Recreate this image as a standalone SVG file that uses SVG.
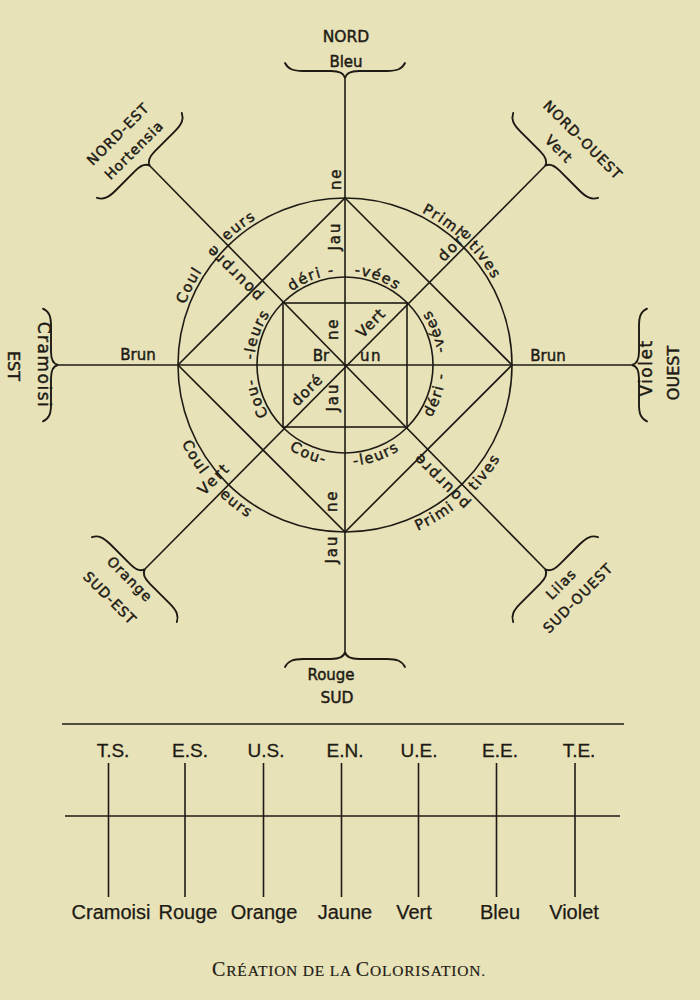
<svg xmlns="http://www.w3.org/2000/svg" width="700" height="1000" viewBox="0 0 700 1000">
<style>
svg{font-size:15px}
.ln{fill:none;stroke:#1d1b14;stroke-width:1.6}
.br{fill:none;stroke:#1d1b14;stroke-width:1.9;stroke-linecap:round}
text{fill:#1d1b14;stroke:#1d1b14;stroke-width:0.45px;font-family:"DejaVu Sans","Liberation Sans",sans-serif}
.r text{font-size:14.5px;letter-spacing:1.5px}
.lb{font-size:14px;letter-spacing:1px}
.tb text{font-family:"Liberation Sans",Arial,sans-serif;font-size:20px;stroke-width:0.25px}
.th text{font-family:"Liberation Sans",Arial,sans-serif;font-size:19px;stroke-width:0.3px}
text.cap{font-family:"Liberation Serif","Times New Roman",serif;letter-spacing:0.8px;stroke-width:0.2px}
</style>
<defs>
<path id="brace" d="M-60,-15 C-57,-9 -52,-7 -42,-7 L-14,-7 C-5,-7 -1,-5 0,0 C1,-5 5,-7 14,-7 L42,-7 C52,-7 57,-9 60,-15"/>
<path id="oCW" d="M174,365 A171,171 0 0 1 516,365"/>
<path id="oCCW" d="M164,365 A181,181 0 0 0 526,365"/>
<path id="iCW" d="M345,456 A91,91 0 0 1 254,365 A91,91 0 0 1 436,365"/>
<path id="iCCW" d="M244,365 A101,101 0 0 0 345,466 A101,101 0 0 0 446,365 A101,101 0 0 0 345,264"/>
</defs>
<rect width="700" height="1000" fill="#e8e2b9"/>

<g id="connectors" class="ln">
<line x1="58" y1="365" x2="632" y2="365"/>
<line x1="345" y1="78" x2="345" y2="652"/>
<line x1="150" y1="166" x2="545" y2="569"/>
<line x1="545" y1="166" x2="145" y2="569"/>
<circle cx="345" cy="365" r="167"/>
<circle cx="345" cy="365" r="88"/>
<rect x="283" y="303" width="124" height="124"/>
<polygon points="345,198 512,365 345,532 178,365"/>
</g>

<g id="braces" class="br">
<use href="#brace" transform="translate(345,78)"/>
<use href="#brace" transform="translate(345,652) rotate(180)"/>
<use href="#brace" transform="translate(58,365) rotate(-90) scale(0.94,1)"/>
<use href="#brace" transform="translate(632,365) rotate(90) scale(0.94,1)"/>
<use href="#brace" transform="translate(150,166) rotate(-45)"/>
<use href="#brace" transform="translate(545,166) rotate(45)"/>
<use href="#brace" transform="translate(145,569) rotate(-135)"/>
<use href="#brace" transform="translate(545,569) rotate(135)"/>
</g>

<g id="nord"><text x="346" y="42" text-anchor="middle" font-size="15.5">NORD</text><text x="346" y="67" text-anchor="middle">Bleu</text></g>
<g id="sud"><text x="331" y="680" text-anchor="middle">Rouge</text><text x="337" y="703" text-anchor="middle" font-size="15.5">SUD</text></g>
<g id="est"><text transform="translate(44,365) rotate(90)" y="6" text-anchor="middle" font-size="17" letter-spacing="1.5">Cramoisi</text><text transform="translate(14,366) rotate(90)" y="6" text-anchor="middle" font-size="16">EST</text></g>
<g id="ouest"><text transform="translate(646,368) rotate(-90)" y="6" text-anchor="middle" font-size="17" letter-spacing="1.5">Violet</text><text transform="translate(673,373) rotate(-90)" y="6" text-anchor="middle" font-size="16">OUEST</text></g>
<g id="nord-est" class="lb"><text transform="translate(134,150) rotate(-45)" y="5" text-anchor="middle">Hortensia</text><text transform="translate(118,134) rotate(-45)" y="5" text-anchor="middle">NORD-EST</text></g>
<g id="nord-ouest" class="lb"><text transform="translate(559,149) rotate(45)" y="5" text-anchor="middle">Vert</text><text transform="translate(583,140) rotate(45)" y="5" text-anchor="middle">NORD-OUEST</text></g>
<g id="sud-est" class="lb"><text transform="translate(130,579) rotate(45)" y="5" text-anchor="middle">Orange</text><text transform="translate(110,598) rotate(45)" y="5" text-anchor="middle">SUD-EST</text></g>
<g id="sud-ouest" class="lb"><text transform="translate(561,584) rotate(-45)" y="5" text-anchor="middle">Lilas</text><text transform="translate(578,598) rotate(-45)" y="5" text-anchor="middle">SUD-OUEST</text></g>

<g id="axis-labels">
<text x="138" y="360" text-anchor="middle">Brun</text>
<text x="548" y="361" text-anchor="middle">Brun</text>
<text x="321" y="361" text-anchor="middle">Br</text>
<text x="371" y="361" text-anchor="middle" letter-spacing="1.5">un</text>
<text transform="translate(336,179) rotate(-90)" y="5" text-anchor="middle" letter-spacing="1.5">ne</text>
<text transform="translate(335,236) rotate(-90)" y="5" text-anchor="middle" letter-spacing="2">Jau</text>
<text transform="translate(333,329) rotate(-90)" y="5" text-anchor="middle" letter-spacing="1.5">ne</text>
<text transform="translate(333,397) rotate(-90)" y="5" text-anchor="middle" letter-spacing="2">Jau</text>
<text transform="translate(332,501) rotate(-90)" y="5" text-anchor="middle" letter-spacing="1.5">ne</text>
<text transform="translate(332,549) rotate(-90)" y="5" text-anchor="middle" letter-spacing="2">Jau</text>
<text transform="translate(371,323) rotate(-45)" y="5" text-anchor="middle" letter-spacing="1">Vert</text>
<text transform="translate(307,390) rotate(-45)" y="5" text-anchor="middle" letter-spacing="1">doré</text>
<text transform="translate(455,244) rotate(-45)" y="5" text-anchor="middle" letter-spacing="2">doré</text>
<text transform="translate(214,479) rotate(-45)" y="5" text-anchor="middle" letter-spacing="2">Vert</text>
<text transform="translate(234,273) rotate(225)" y="5" text-anchor="middle" letter-spacing="2">pourpre</text>
<text transform="translate(441,481) rotate(225)" y="5" text-anchor="middle" letter-spacing="2">pourpre</text>
</g>

<g id="outer-ring" class="r">
<text><textPath href="#oCW" startOffset="81" text-anchor="middle">Coul</textPath></text>
<text><textPath href="#oCW" startOffset="157" text-anchor="middle">eurs</textPath></text>
<text><textPath href="#oCW" startOffset="370" text-anchor="middle">Primi</textPath></text>
<text><textPath href="#oCW" startOffset="427" text-anchor="middle">tives</textPath></text>
<text><textPath href="#oCCW" startOffset="100" text-anchor="middle">Coul</textPath></text>
<text><textPath href="#oCCW" startOffset="164" text-anchor="middle">eurs</textPath></text>
<text><textPath href="#oCCW" startOffset="381" text-anchor="middle">Primi</textPath></text>
<text><textPath href="#oCCW" startOffset="450" text-anchor="middle">tives</textPath></text>
</g>

<g id="inner-ring" class="r">
<text><textPath href="#iCW" startOffset="110" text-anchor="middle">Cou-</textPath></text>
<text><textPath href="#iCW" startOffset="173" text-anchor="middle">-leurs</textPath></text>
<text><textPath href="#iCW" startOffset="252" text-anchor="middle">déri -</textPath></text>
<text><textPath href="#iCW" startOffset="318" text-anchor="middle">-vées</textPath></text>
<text><textPath href="#iCCW" startOffset="119" text-anchor="middle">Cou-</textPath></text>
<text><textPath href="#iCCW" startOffset="192" text-anchor="middle">-leurs</textPath></text>
<text><textPath href="#iCCW" startOffset="285" text-anchor="middle">déri -</textPath></text>
<text><textPath href="#iCCW" startOffset="353" text-anchor="middle">-vées</textPath></text>
</g>

<g id="table">
<g class="ln">
<line x1="62" y1="724" x2="624" y2="724"/>
<line x1="65" y1="816" x2="620" y2="816"/>
<line x1="108.5" y1="763" x2="108.5" y2="897"/>
<line x1="185" y1="763" x2="185" y2="897"/>
<line x1="263.5" y1="763" x2="263.5" y2="897"/>
<line x1="341.5" y1="763" x2="341.5" y2="897"/>
<line x1="418.5" y1="763" x2="418.5" y2="897"/>
<line x1="496.5" y1="763" x2="496.5" y2="897"/>
<line x1="575" y1="763" x2="575" y2="897"/>
</g>
<g id="table-head" class="th" text-anchor="middle">
<text x="113" y="757">T.S.</text>
<text x="190" y="757">E.S.</text>
<text x="266" y="757">U.S.</text>
<text x="345" y="757">E.N.</text>
<text x="419" y="757">U.E.</text>
<text x="500" y="757">E.E.</text>
<text x="579" y="757">T.E.</text>
</g>
<g id="table-foot" class="tb" text-anchor="middle">
<text x="111" y="919">Cramoisi</text>
<text x="188" y="919">Rouge</text>
<text x="264" y="919">Orange</text>
<text x="345" y="919">Jaune</text>
<text x="414" y="919">Vert</text>
<text x="500" y="919">Bleu</text>
<text x="574" y="919">Violet</text>
</g>
</g>

<g id="caption"><text x="349" y="976" text-anchor="middle" class="cap"><tspan font-size="20">C</tspan><tspan font-size="15.5">RÉATION DE LA </tspan><tspan font-size="20">C</tspan><tspan font-size="15.5">OLORISATION.</tspan></text></g>
</svg>
